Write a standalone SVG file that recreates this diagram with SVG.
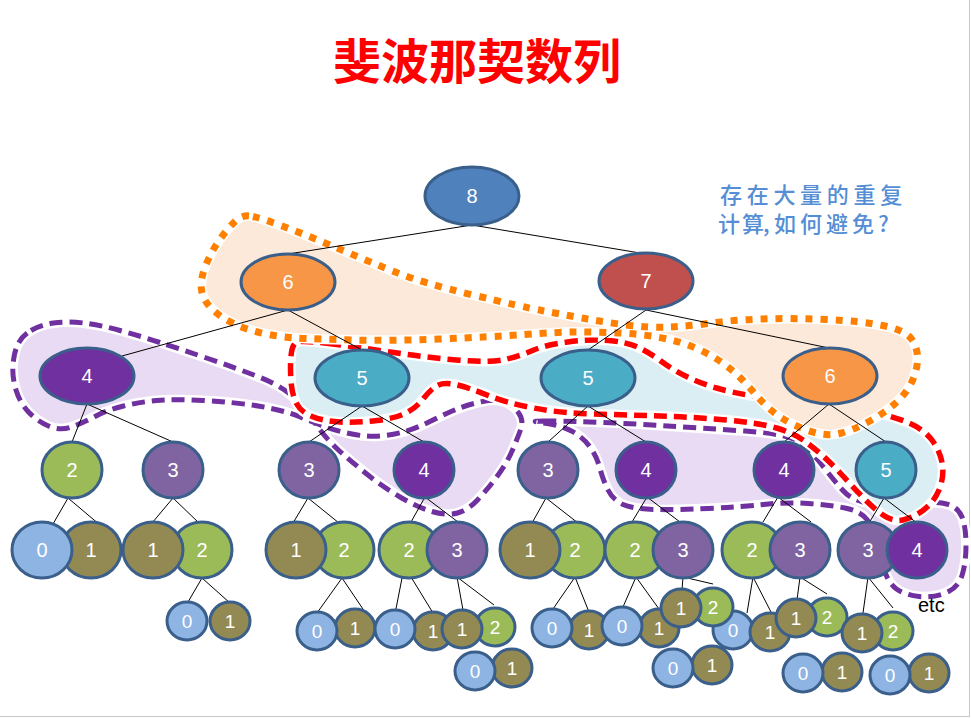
<svg xmlns="http://www.w3.org/2000/svg" xmlns:xlink="http://www.w3.org/1999/xlink" width="971" height="718" viewBox="0 0 971 718">
<style>
.halo{stroke:#FFFFFF;stroke-width:10;stroke-linejoin:round}
.pf{fill:#E9DBF3}
.bf{fill:#DBEEF4}
.of{fill:#FDE9D9}
.pd{fill:none;stroke:#7030A0;stroke-width:5;stroke-dasharray:13 7}
.rd{fill:none;stroke:#FF0000;stroke-width:5.5;stroke-dasharray:13 7}
.od{fill:none;stroke:#FF8000;stroke-width:7;stroke-dasharray:7 8}
.e line{stroke:#000000;stroke-width:1}
.nd ellipse{stroke:#3A5F8B;stroke-width:3}
.nd text{fill:#FFFFFF;font-family:"Liberation Sans",Arial,sans-serif;font-size:20px;text-anchor:middle}
.nd .s{font-size:19px}
.c0{fill:#8DB4E2}.c1{fill:#938953}.c2{fill:#9BBB59}.c3{fill:#8064A2}.c4{fill:#7030A0}.c5{fill:#4BACC6}.c6{fill:#F79646}.c7{fill:#C0504D}.c8{fill:#4F81BD}
.q{font-family:"Noto Sans CJK SC",sans-serif;font-size:22px;fill:#558ED5}
</style>
<defs>
<path id="p1" d="M31,330.5 Q40,325 53.5,323 Q67,321 83.5,323 Q100,325 120,330.5 Q140,336 160,342.5 Q180,349 206.5,358 Q233,367 256.5,376 Q280,385 291,395 Q302,405 314.5,422.5 Q327,440 340,451.5 Q353,463 368,475 Q383,487 400,497 Q417,507 432,511.5 Q447,516 457.5,513 Q468,510 477.5,500 Q487,490 497,476.5 Q507,463 512.5,450 Q518,437 521,428.5 Q524,420 518,412 Q512,404 503.5,401.5 Q495,399 482.5,401.5 Q470,404 458.5,408.5 Q447,413 432,420.5 Q417,428 405,431.5 Q393,435 380,436 Q367,437 352,434 Q337,431 326,427 Q315,423 299,416.5 Q283,410 258,406 Q233,402 203,400.5 Q173,399 156.5,400.5 Q140,402 123.5,406 Q107,410 95,416.5 Q83,423 71.5,427 Q60,431 48.5,426 Q37,421 28.5,412 Q20,403 16,390 Q12,377 13,364.5 Q14,352 18,344 Q22,336 31,330.5 Z"/>
<path id="p2" d="M543.5,421 Q560,421 590,422 Q620,423 660,425.5 Q700,428 745,431 Q790,434 801,443 Q812,452 822,465 Q832,478 842,489.5 Q852,501 868.5,503 Q885,505 910,503 Q935,501 946.5,504 Q958,507 962,517 Q966,527 966,545 Q966,563 962,575.5 Q958,588 945.5,593 Q933,598 919,596.5 Q905,595 896.5,589 Q888,583 884,569 Q880,555 877,541.5 Q874,528 867,519.5 Q860,511 845,508 Q830,505 808.5,503.5 Q787,502 763.5,504.5 Q740,507 708.5,508.5 Q677,510 655,509.5 Q633,509 623,504.5 Q613,500 608,490 Q603,480 600,468.5 Q597,457 590,447 Q583,437 571.5,431 Q560,425 543.5,423 Q527,421 543.5,421 Z"/>
<path id="pb" d="M328.5,343.5 Q357,347 390,352 Q423,357 456.5,360 Q490,363 505,359.5 Q520,356 532.5,350.5 Q545,345 567.5,342 Q590,339 608.5,340.5 Q627,342 638.5,347.5 Q650,353 661.5,361.5 Q673,370 686.5,376.5 Q700,383 716.5,388 Q733,393 756.5,396.5 Q780,400 810,402.5 Q840,405 866.5,410.5 Q893,416 909,423 Q925,430 933,441.5 Q941,453 942.5,465.5 Q944,478 939,490 Q934,502 923.5,510 Q913,518 903,520 Q893,522 883,515 Q873,508 863,497.5 Q853,487 843,476 Q833,465 823,456 Q813,447 803,440 Q793,433 776.5,428 Q760,423 726.5,420 Q693,417 660,416 Q627,415 593.5,414 Q560,413 533.5,408 Q507,403 487,395 Q467,387 455,384.5 Q443,382 436.5,386 Q430,390 423.5,398.5 Q417,407 407,412.5 Q397,418 377,420.5 Q357,423 340,422 Q323,421 312,416.5 Q301,412 296.5,403.5 Q292,395 291,381 Q290,367 291,356 Q292,345 296,342.5 Q300,340 328.5,343.5 Z"/>
<path id="po" d="M253,216.5 Q263,219 278,224.5 Q293,230 308,236 Q323,242 346.5,252 Q370,262 396.5,272.5 Q423,283 473,295 Q523,307 541.5,310.5 Q560,314 581.5,318 Q603,322 626.5,325 Q650,328 670,327 Q690,326 711.5,323 Q733,320 763,319 Q793,318 826.5,319.5 Q860,321 882.5,325.5 Q905,330 911.5,339 Q918,348 917.5,360 Q917,372 911,383.5 Q905,395 894,404.5 Q883,414 868,422 Q853,430 841.5,433 Q830,436 818.5,433.5 Q807,431 793.5,424.5 Q780,418 771.5,410.5 Q763,403 756.5,395.5 Q750,388 742.5,380 Q735,372 724,364 Q713,356 700,350 Q687,344 673.5,340.5 Q660,337 643.5,335 Q627,333 610,332.5 Q593,332 576.5,332 Q560,332 525,334.5 Q490,337 440,339 Q390,341 351.5,340 Q313,339 296.5,338 Q280,337 263.5,333.5 Q247,330 233.5,323.5 Q220,317 211.5,308.5 Q203,300 201.5,290 Q200,280 205.5,266 Q211,252 219.5,240 Q228,228 235.5,221 Q243,214 253,216.5 Z"/>
</defs>
<rect width="971" height="718" fill="#FFFFFF"/>
<line x1="969.5" y1="0" x2="969.5" y2="717" stroke="#C8C8C8" stroke-width="1"/>
<line x1="0" y1="716.5" x2="970" y2="716.5" stroke="#C8C8C8" stroke-width="1"/>

<text x="477" y="79" font-family="'Noto Sans CJK SC',sans-serif" font-size="48" font-weight="bold" fill="#FF0000" text-anchor="middle">斐波那契数列</text>
<text class="q" x="720" y="203" letter-spacing="4.7" font-weight="500">存在大量的重复</text>
<text class="q" x="718 742 763 768 774 800 826 852 878" y="232" font-weight="500">计算, 如何避免?</text>

<g id="groups">
<g id="purple-left"><use xlink:href="#p1" class="pf halo"/><use xlink:href="#p1" class="pd"/></g>
<g id="purple-right"><use xlink:href="#p2" class="pf halo"/><use xlink:href="#p2" class="pd"/></g>
<g id="blue-red"><use xlink:href="#pb" class="bf halo"/><use xlink:href="#pb" class="rd"/></g>
<g id="orange"><use xlink:href="#po" class="of halo"/><use xlink:href="#po" class="od"/></g>
</g>

<g id="connectors" class="e">
<line x1="472" y1="225" x2="288" y2="254"/>
<line x1="472" y1="225" x2="646" y2="254"/>
<line x1="288" y1="310" x2="122" y2="356"/>
<line x1="288" y1="310" x2="362" y2="350"/>
<line x1="646" y1="310" x2="588" y2="350"/>
<line x1="646" y1="310" x2="829" y2="348"/>
<line x1="87" y1="404" x2="72" y2="442"/>
<line x1="87" y1="404" x2="173" y2="442"/>
<line x1="362" y1="406" x2="309" y2="442"/>
<line x1="362" y1="406" x2="424" y2="442"/>
<line x1="588" y1="406" x2="548" y2="442"/>
<line x1="588" y1="406" x2="646" y2="442"/>
<line x1="829" y1="404" x2="784" y2="442"/>
<line x1="829" y1="404" x2="886" y2="442"/>
<line x1="68" y1="498" x2="53" y2="524"/>
<line x1="68" y1="498" x2="100" y2="525"/>
<line x1="173" y1="498" x2="152" y2="523"/>
<line x1="173" y1="498" x2="199" y2="523"/>
<line x1="308" y1="498" x2="293" y2="523"/>
<line x1="308" y1="498" x2="339" y2="523"/>
<line x1="425" y1="497" x2="411" y2="522"/>
<line x1="425" y1="497" x2="458" y2="522"/>
<line x1="546" y1="498" x2="532" y2="523"/>
<line x1="546" y1="498" x2="578" y2="523"/>
<line x1="647" y1="497" x2="632" y2="522"/>
<line x1="647" y1="497" x2="680" y2="522"/>
<line x1="778" y1="497" x2="763" y2="522"/>
<line x1="778" y1="497" x2="811" y2="522"/>
<line x1="884" y1="498" x2="869" y2="523"/>
<line x1="884" y1="498" x2="917" y2="523"/>
<line x1="202" y1="578" x2="188" y2="602"/>
<line x1="202" y1="578" x2="230" y2="603"/>
<line x1="342" y1="578" x2="317" y2="613"/>
<line x1="342" y1="578" x2="367" y2="615"/>
<line x1="403" y1="573" x2="393" y2="624"/>
<line x1="411" y1="577" x2="433" y2="613"/>
<line x1="457" y1="577" x2="463" y2="610"/>
<line x1="457" y1="577" x2="494" y2="605"/>
<line x1="575" y1="577" x2="553" y2="609"/>
<line x1="575" y1="577" x2="589" y2="612"/>
<line x1="636" y1="577" x2="623" y2="607"/>
<line x1="636" y1="577" x2="659" y2="609"/>
<line x1="683" y1="577" x2="682" y2="590"/>
<line x1="683" y1="577" x2="713" y2="584"/>
<line x1="753" y1="577" x2="747" y2="613"/>
<line x1="753" y1="577" x2="771" y2="612"/>
<line x1="800" y1="577" x2="797" y2="600"/>
<line x1="800" y1="577" x2="827" y2="594"/>
<line x1="868" y1="577" x2="863" y2="613"/>
<line x1="868" y1="577" x2="893" y2="608"/>
</g>

<g id="nodes" class="nd">
<g id="n-8"><ellipse cx="472" cy="196" rx="47" ry="29" class="c8"/><text x="472" y="203">8</text></g>
<g id="n-6a"><ellipse cx="288" cy="282" rx="47" ry="28" class="c6"/><text x="288" y="289">6</text></g>
<g id="n-7"><ellipse cx="646" cy="281" rx="47" ry="28" class="c7"/><text x="646" y="288">7</text></g>
<g id="n-4a"><ellipse cx="87" cy="376" rx="47" ry="28" class="c4"/><text x="87" y="383">4</text></g>
<g id="n-5a"><ellipse cx="362" cy="378" rx="47" ry="28" class="c5"/><text x="362" y="385">5</text></g>
<g id="n-5b"><ellipse cx="588" cy="378" rx="47" ry="28" class="c5"/><text x="588" y="385">5</text></g>
<g id="n-6b"><ellipse cx="830" cy="376" rx="47" ry="28" class="c6"/><text x="830" y="383">6</text></g>

<g id="l4-2"><ellipse cx="72" cy="470" rx="30" ry="28" class="c2"/><text x="72" y="477">2</text></g>
<g id="l4-3a"><ellipse cx="173" cy="470" rx="30" ry="28" class="c3"/><text x="173" y="477">3</text></g>
<g id="l4-3b"><ellipse cx="309" cy="470" rx="30" ry="28" class="c3"/><text x="309" y="477">3</text></g>
<g id="l4-4a"><ellipse cx="424" cy="470" rx="30" ry="28" class="c4"/><text x="424" y="477">4</text></g>
<g id="l4-3c"><ellipse cx="548" cy="470" rx="30" ry="28" class="c3"/><text x="548" y="477">3</text></g>
<g id="l4-4b"><ellipse cx="646" cy="470" rx="30" ry="28" class="c4"/><text x="646" y="477">4</text></g>
<g id="l4-4c"><ellipse cx="784" cy="470" rx="30" ry="28" class="c4"/><text x="784" y="477">4</text></g>
<g id="l4-5"><ellipse cx="886" cy="470" rx="30" ry="28" class="c5"/><text x="886" y="477">5</text></g>

<g id="l5-1a"><ellipse cx="91" cy="550" rx="30" ry="28" class="c1"/><text x="91" y="557">1</text></g>
<g id="l5-0a"><ellipse cx="42" cy="550" rx="30" ry="28" class="c0"/><text x="42" y="557">0</text></g>
<g id="l5-2a"><ellipse cx="202" cy="550" rx="30" ry="28" class="c2"/><text x="202" y="557">2</text></g>
<g id="l5-1b"><ellipse cx="153" cy="550" rx="30" ry="28" class="c1"/><text x="153" y="557">1</text></g>
<g id="l5-2b"><ellipse cx="344" cy="550" rx="30" ry="28" class="c2"/><text x="344" y="557">2</text></g>
<g id="l5-1c"><ellipse cx="296" cy="550" rx="30" ry="28" class="c1"/><text x="296" y="557">1</text></g>
<g id="l5-2c"><ellipse cx="409" cy="550" rx="30" ry="28" class="c2"/><text x="409" y="557">2</text></g>
<g id="l5-3a"><ellipse cx="457" cy="550" rx="30" ry="28" class="c3"/><text x="457" y="557">3</text></g>
<g id="l5-2d"><ellipse cx="575" cy="550" rx="30" ry="28" class="c2"/><text x="575" y="557">2</text></g>
<g id="l5-1d"><ellipse cx="530" cy="550" rx="30" ry="28" class="c1"/><text x="530" y="557">1</text></g>
<g id="l5-2e"><ellipse cx="635" cy="550" rx="30" ry="28" class="c2"/><text x="635" y="557">2</text></g>
<g id="l5-3b"><ellipse cx="683" cy="550" rx="30" ry="28" class="c3"/><text x="683" y="557">3</text></g>
<g id="l5-2f"><ellipse cx="752" cy="550" rx="30" ry="28" class="c2"/><text x="752" y="557">2</text></g>
<g id="l5-3c"><ellipse cx="800" cy="550" rx="30" ry="28" class="c3"/><text x="800" y="557">3</text></g>
<g id="l5-3d"><ellipse cx="868" cy="550" rx="30" ry="28" class="c3"/><text x="868" y="557">3</text></g>
<g id="l5-4"><ellipse cx="917" cy="550" rx="30" ry="28" class="c4"/><text x="917" y="557">4</text></g>

<g id="s-1a"><ellipse cx="230" cy="621" rx="20" ry="19" class="c1"/><text class="s" x="230" y="628">1</text></g>
<g id="s-0a"><ellipse cx="187" cy="621" rx="20" ry="19" class="c0"/><text class="s" x="187" y="628">0</text></g>
<g id="s-1b"><ellipse cx="355" cy="628" rx="20" ry="19" class="c1"/><text class="s" x="355" y="635">1</text></g>
<g id="s-0b"><ellipse cx="317" cy="631" rx="20" ry="19" class="c0"/><text class="s" x="317" y="638">0</text></g>
<g id="s-1c"><ellipse cx="433" cy="631" rx="20" ry="19" class="c1"/><text class="s" x="433" y="638">1</text></g>
<g id="s-0c"><ellipse cx="395" cy="629" rx="20" ry="19" class="c0"/><text class="s" x="395" y="636">0</text></g>
<g id="s-2a"><ellipse cx="495" cy="627" rx="20" ry="19" class="c2"/><text class="s" x="495" y="634">2</text></g>
<g id="s-1d"><ellipse cx="462" cy="629" rx="20" ry="19" class="c1"/><text class="s" x="462" y="636">1</text></g>
<g id="s-1e"><ellipse cx="512" cy="668" rx="20" ry="19" class="c1"/><text class="s" x="512" y="675">1</text></g>
<g id="s-0d"><ellipse cx="475" cy="671" rx="20" ry="19" class="c0"/><text class="s" x="475" y="678">0</text></g>
<g id="s-1f"><ellipse cx="589" cy="630" rx="20" ry="19" class="c1"/><text class="s" x="589" y="637">1</text></g>
<g id="s-0e"><ellipse cx="552" cy="628" rx="20" ry="19" class="c0"/><text class="s" x="552" y="635">0</text></g>
<g id="s-1g"><ellipse cx="659" cy="628" rx="20" ry="19" class="c1"/><text class="s" x="659" y="635">1</text></g>
<g id="s-0f"><ellipse cx="622" cy="626" rx="20" ry="19" class="c0"/><text class="s" x="622" y="633">0</text></g>
<g id="s-0g"><ellipse cx="733" cy="630" rx="20" ry="19" class="c0"/><text class="s" x="733" y="637">0</text></g>
<g id="s-2b"><ellipse cx="713" cy="607" rx="20" ry="19" class="c2"/><text class="s" x="713" y="614">2</text></g>
<g id="s-1h"><ellipse cx="681" cy="608" rx="20" ry="19" class="c1"/><text class="s" x="681" y="615">1</text></g>
<g id="s-1i"><ellipse cx="712" cy="665" rx="20" ry="19" class="c1"/><text class="s" x="712" y="672">1</text></g>
<g id="s-0h"><ellipse cx="673" cy="668" rx="20" ry="19" class="c0"/><text class="s" x="673" y="675">0</text></g>
<g id="s-1j"><ellipse cx="770" cy="632" rx="20" ry="19" class="c1"/><text class="s" x="770" y="639">1</text></g>
<g id="s-2c"><ellipse cx="827" cy="617" rx="20" ry="19" class="c2"/><text class="s" x="827" y="624">2</text></g>
<g id="s-1k"><ellipse cx="796" cy="618" rx="20" ry="19" class="c1"/><text class="s" x="796" y="625">1</text></g>
<g id="s-1l"><ellipse cx="842" cy="672" rx="20" ry="19" class="c1"/><text class="s" x="842" y="679">1</text></g>
<g id="s-0i"><ellipse cx="803" cy="673" rx="20" ry="19" class="c0"/><text class="s" x="803" y="680">0</text></g>
<g id="s-2d"><ellipse cx="893" cy="631" rx="20" ry="19" class="c2"/><text class="s" x="893" y="638">2</text></g>
<g id="s-1m"><ellipse cx="862" cy="633" rx="20" ry="19" class="c1"/><text class="s" x="862" y="640">1</text></g>
<g id="s-1n"><ellipse cx="929" cy="673" rx="20" ry="19" class="c1"/><text class="s" x="929" y="680">1</text></g>
<g id="s-0j"><ellipse cx="890" cy="675" rx="20" ry="19" class="c0"/><text class="s" x="890" y="682">0</text></g>
</g>

<text x="918" y="612" font-family="'Liberation Sans',Arial,sans-serif" font-size="20" fill="#000000">etc</text>
</svg>
